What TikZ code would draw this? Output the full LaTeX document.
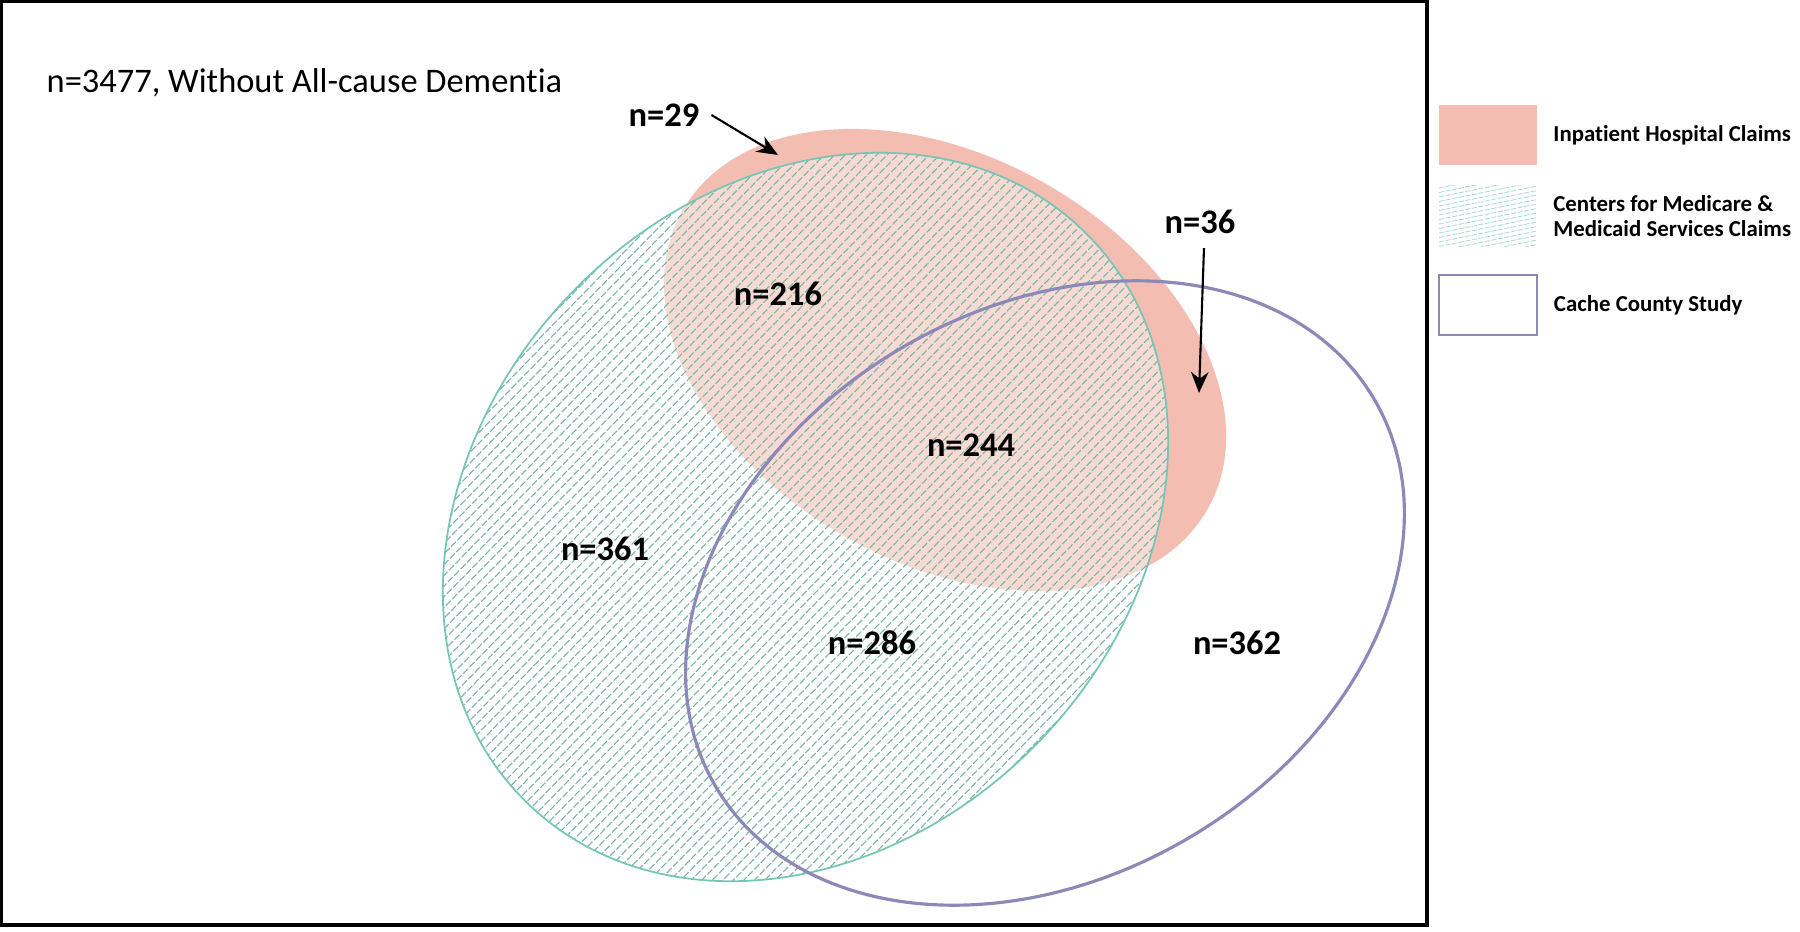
\documentclass[tikz,border=0pt]{standalone}
\usepackage{fontspec}
\setmainfont{Carlito}[Ligatures={NoCommon}]
\usetikzlibrary{arrows.meta, positioning}
\definecolor{inpink}{RGB}{243,189,177}
\definecolor{cmsteal}{RGB}{118,198,182}
\definecolor{cmshatch}{RGB}{118,180,160}
\definecolor{cachepurple}{RGB}{140,137,184}

\begin{document}
\begin{tikzpicture}[
  cnt/.style={font=\bfseries\fontsize{9.8}{12}\selectfont, inner sep=1pt},
  legbox/.style={minimum width=0.98cm, minimum height=0.6cm, inner sep=0pt},
  legtext/.style={font=\bfseries\fontsize{6.5}{7.1}\selectfont, align=left, inner sep=0pt},
  hatchline/.style={cmshatch, line width=0.3pt, dash pattern=on 2pt off 0.6pt},
  pointer/.style={-{Stealth[length=6pt, width=5pt]}, line width=0.6pt}
]
  \useasboundingbox (0,0) rectangle (18,9.31);
  \draw[line width=0.9pt] (0.015,0.06) rectangle (14.27,9.295);

  \node[anchor=west, inner sep=0pt, font=\fontsize{9.8}{12}\selectfont] (title) at (0.46,8.48) {n=3477, Without All-cause Dementia};

  % inpatient
  \fill[inpink, rotate around={-29.6:(9.45,5.71)}] (9.45,5.71) ellipse [x radius=3.02, y radius=2.03];

  % cms, hatched
  \begin{scope}[rotate around={45.6:(8.055,4.14)}]
    \fill[white, fill opacity=0.45] (8.055,4.14) ellipse [x radius=3.99, y radius=3.24];
    \begin{scope}
      \clip (8.055,4.14) ellipse [x radius=3.99, y radius=3.24];
      \foreach \k in {-44,...,44}
        \draw[hatchline] (3.9,4.14+\k*0.075) -- ++(8.3,0);
    \end{scope}
    \draw[cmsteal, line width=0.5pt] (8.055,4.14) ellipse [x radius=3.99, y radius=3.24];
  \end{scope}

  % cache county
  \draw[cachepurple, line width=0.9pt, rotate around={30.5:(10.45,3.38)}] (10.45,3.38) ellipse [x radius=3.82, y radius=2.84];

  \node[cnt] (n216) at (7.78,6.37) {n=216};
  \node[cnt] (n244) at (9.71,4.86) {n=244};
  \node[cnt] (n361) at (6.05,3.82) {n=361};
  \node[cnt] (n286) at (8.72,2.88) {n=286};
  \node[cnt] (n362) at (12.37,2.88) {n=362};
  \node[cnt] (n29) at (6.64,8.16) {n=29};
  \node[cnt] (n36) at (12.00,7.09) {n=36};

  \coordinate (t29) at (7.78,7.76);
  \coordinate (t36) at (11.99,5.38);
  \draw[pointer] (n29.east) ++(0.08,0) -- (t29);
  \draw[pointer] (n36.south) ++(0.04,-0.1) -- (t36);

  % legend
  \node[legbox, fill=inpink] (legIn) at (14.88,7.96) {};
  \node[legbox] (legCms) at (14.88,7.15) {};
  \node[legbox, draw=cachepurple, line width=0.7pt] (legCache) at (14.88,6.26) {};
  \begin{scope}
    \clip (legCms.south west) rectangle (legCms.north east);
    \foreach \k in {0,...,20}
      \draw[cmsteal!60, line width=0.25pt, dash pattern=on 1.5pt off 0.4pt] (14.39,6.62+\k*0.045) -- ++(0.98,0.2);
  \end{scope}
  \node[legtext, right=0.15cm of legIn] (txtIn) {Inpatient Hospital Claims};
  \node[legtext, right=0.15cm of legCms] (txtCms) {Centers for Medicare \&\\Medicaid Services Claims};
  \node[legtext, right=0.15cm of legCache] (txtCache) {Cache County Study};
\end{tikzpicture}
\end{document}
